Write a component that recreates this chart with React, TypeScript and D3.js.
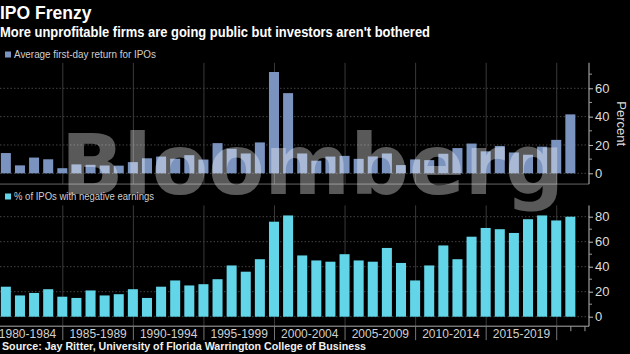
import React, { useRef, useEffect } from 'react';
import * as d3 from 'd3';

// Ritter IPO statistics
const years = [
  1980, 1981, 1982, 1983, 1984, 1985, 1986, 1987, 1988, 1989,
  1990, 1991, 1992, 1993, 1994, 1995, 1996, 1997, 1998, 1999,
  2000, 2001, 2002, 2003, 2004, 2005, 2006, 2007, 2008, 2009,
  2010, 2011, 2012, 2013, 2014, 2015, 2016, 2017, 2018, 2019,
  2020,
];

const firstDayReturn = [
  14.3, 5.6, 11.1, 9.9, 3.6, 6.3, 6.0, 5.5, 5.4, 7.9,
  10.6, 11.8, 10.3, 12.8, 9.7, 21.3, 17.3, 14.0, 21.8, 71.5,
  56.6, 14.0, 8.9, 11.8, 12.3, 10.2, 11.9, 14.0, 5.8, 9.8,
  9.3, 13.8, 17.8, 21.0, 15.5, 19.3, 14.7, 13.1, 18.8, 23.6,
  41.6,
];

const negativeEarnings = [
  24, 17, 19, 22, 16, 15, 21, 17, 18, 22,
  15, 24, 29, 25, 26, 30, 41, 36, 46, 76,
  81, 49, 45, 44, 50, 45, 44, 55, 43, 29,
  41, 57, 46, 64, 71, 70, 67, 78, 81, 77,
  80,
];

const periodLabels = [
  '1980-1984', '1985-1989', '1990-1994', '1995-1999',
  '2000-2004', '2005-2009', '2010-2014', '2015-2019',
];

const topTicks = [0, 20, 40, 60];
const topMinorTicks = [10, 30, 50, 70];
const bottomTicks = [0, 20, 40, 60, 80];
const bottomMinorTicks = [10, 30, 50, 70];

const WIDTH = 630;
const HEIGHT = 354;
const FONT = '"Liberation Sans", Arial, sans-serif';

const App = () => {
  const svgRef = useRef<SVGSVGElement>(null);

  useEffect(() => {
    const svg = d3.select(svgRef.current);
    svg.selectAll('*').remove();

    svg.append('rect')
      .attr('width', WIDTH)
      .attr('height', HEIGHT)
      .attr('fill', '#000');

    // shared year scale
    const x = d3.scaleBand<number>()
      .domain(years)
      .range([-1.2, 577.4])
      .paddingInner(0.29)
      .paddingOuter(0.145);
    const cx = (yr: number) => (x(yr) as number) + x.bandwidth() / 2;
    const axisX = 589;

    // gridlines sit on the last year of each 5-year period
    const gridX = periodLabels.map((_, i) => cx(years[4 + i * 5]) + 0.5);
    const period = gridX[1] - gridX[0];

    const yTop = d3.scaleLinear().domain([0, 60]).range([173.3, 88.3]);
    const yBot = d3.scaleLinear().domain([0, 80]).range([316.7, 216.7]);

    const topPanel = [yTop(78), yTop(-7.6)];
    const botPanel = [yBot(89), yBot(-7.6)];

    // vertical gridlines
    [topPanel, botPanel].forEach(([y0, y1]) => {
      svg.append('g')
        .selectAll('line')
        .data(gridX)
        .join('line')
        .attr('x1', d => d)
        .attr('x2', d => d)
        .attr('y1', y0)
        .attr('y2', y1)
        .attr('stroke', '#3a3a3a')
        .attr('stroke-width', 1);
    });

    // horizontal gridlines
    svg.append('g')
      .selectAll('line')
      .data(topTicks)
      .join('line')
      .attr('x1', 0)
      .attr('x2', axisX)
      .attr('y1', d => yTop(d))
      .attr('y2', d => yTop(d))
      .attr('stroke', '#444')
      .attr('stroke-dasharray', '1.5,2');

    svg.append('g')
      .selectAll('line')
      .data(bottomTicks)
      .join('line')
      .attr('x1', 0)
      .attr('x2', axisX)
      .attr('y1', d => yBot(d))
      .attr('y2', d => yBot(d))
      .attr('stroke', '#444')
      .attr('stroke-dasharray', '1.5,2');

    // bars
    svg.append('g')
      .selectAll('rect')
      .data(years)
      .join('rect')
      .attr('x', d => x(d) as number)
      .attr('width', x.bandwidth())
      .attr('y', (d, i) => yTop(firstDayReturn[i]))
      .attr('height', (d, i) => yTop(0) - yTop(firstDayReturn[i]))
      .attr('fill', '#7a93bf');

    svg.append('g')
      .selectAll('rect')
      .data(years)
      .join('rect')
      .attr('x', d => x(d) as number)
      .attr('width', x.bandwidth())
      .attr('y', (d, i) => yBot(negativeEarnings[i]))
      .attr('height', (d, i) => yBot(0) - yBot(negativeEarnings[i]))
      .attr('fill', '#62d5e8');

    // panel base lines
    svg.append('line')
      .attr('x1', 0).attr('x2', axisX)
      .attr('y1', topPanel[1]).attr('y2', topPanel[1])
      .attr('stroke', '#666');

    svg.append('line')
      .attr('x1', 0).attr('x2', axisX)
      .attr('y1', botPanel[1]).attr('y2', botPanel[1])
      .attr('stroke', '#aaa');

    // separators under the bottom axis
    svg.append('g')
      .selectAll('line')
      .data(gridX)
      .join('line')
      .attr('x1', d => d)
      .attr('x2', d => d)
      .attr('y1', botPanel[1])
      .attr('y2', botPanel[1] + 14)
      .attr('stroke', '#777');

    const lastGrid = gridX[gridX.length - 1];
    svg.append('g')
      .selectAll('line')
      .data([1, 2])
      .join('line')
      .attr('x1', d => lastGrid + d * x.step())
      .attr('x2', d => lastGrid + d * x.step())
      .attr('y1', botPanel[1])
      .attr('y2', botPanel[1] + 5)
      .attr('stroke', '#999');

    // period labels
    svg.append('g')
      .selectAll('text')
      .data(periodLabels)
      .join('text')
      .attr('x', (d, i) => gridX[i] - period / 2)
      .attr('y', 338)
      .attr('text-anchor', 'middle')
      .attr('fill', '#d0d0d0')
      .style('font-family', FONT)
      .style('font-size', '12px')
      .text(d => d);

    // right-hand value axes
    const drawAxis = (scale: d3.ScaleLinear<number, number>, ticks: number[], minor: number[], extent: number[]) => {
      const g = svg.append('g');
      g.append('line')
        .attr('x1', axisX).attr('x2', axisX)
        .attr('y1', extent[0]).attr('y2', extent[1])
        .attr('stroke', '#bbb');
      const axis = g.append('g')
        .attr('transform', `translate(${axisX},0)`)
        .call(d3.axisRight(scale).tickValues(ticks).tickSize(4).tickPadding(2));
      axis.select('.domain').remove();
      axis.selectAll('line').attr('stroke', '#bbb');
      axis.selectAll('text')
        .attr('fill', '#dcdcdc')
        .style('font-family', FONT)
        .style('font-size', '13px');
      g.selectAll('.minor')
        .data(minor)
        .join('line')
        .attr('class', 'minor')
        .attr('x1', axisX).attr('x2', axisX + 3)
        .attr('y1', d => scale(d)).attr('y2', d => scale(d))
        .attr('stroke', '#999');
    };

    drawAxis(yTop, topTicks, topMinorTicks, topPanel);
    drawAxis(yBot, bottomTicks, bottomMinorTicks, botPanel);

    svg.append('text')
      .attr('transform', `translate(617, ${yTop(35)}) rotate(90)`)
      .attr('text-anchor', 'middle')
      .attr('fill', '#dcdcdc')
      .style('font-family', FONT)
      .style('font-size', '13px')
      .text('Percent');

    // legends
    const legend = (y: number, color: string, label: string, len: number) => {
      svg.append('rect')
        .attr('x', 5).attr('y', y - 6.5)
        .attr('width', 6).attr('height', 6)
        .attr('fill', color);
      svg.append('text')
        .attr('x', 14).attr('y', y)
        .attr('fill', '#cfcfcf')
        .attr('textLength', len)
        .attr('lengthAdjust', 'spacingAndGlyphs')
        .style('font-family', FONT)
        .style('font-size', '11.5px')
        .text(label);
    };
    legend(58, '#7a93bf', 'Average first-day return for IPOs', 142);
    legend(200, '#62d5e8', '% of IPOs with negative earnings', 140);

    // watermark
    svg.append('text')
      .attr('x', 61)
      .attr('y', 194)
      .attr('fill', '#fff')
      .attr('fill-opacity', 0.35)
      .attr('textLength', 503)
      .attr('lengthAdjust', 'spacingAndGlyphs')
      .style('font-family', '"DejaVu Sans", sans-serif')
      .style('font-weight', 'bold')
      .style('font-size', '84px')
      .text('Bloomberg');

    // titles
    svg.append('text')
      .attr('x', 0).attr('y', 19)
      .attr('fill', '#fff')
      .style('font-family', FONT)
      .style('font-weight', 'bold')
      .style('font-size', '17.5px')
      .text('IPO Frenzy');

    svg.append('text')
      .attr('x', 0).attr('y', 37)
      .attr('fill', '#fff')
      .attr('textLength', 430)
      .attr('lengthAdjust', 'spacingAndGlyphs')
      .style('font-family', FONT)
      .style('font-weight', 'bold')
      .style('font-size', '15px')
      .text("More unprofitable firms are going public but investors aren't bothered");

    svg.append('text')
      .attr('x', 2).attr('y', 350)
      .attr('fill', '#f0f0f0')
      .attr('textLength', 364)
      .attr('lengthAdjust', 'spacingAndGlyphs')
      .style('font-family', FONT)
      .style('font-weight', 'bold')
      .style('font-size', '10.5px')
      .text('Source: Jay Ritter, University of Florida Warrington College of Business');
  }, []);

  return (
    <svg
      ref={svgRef}
      width={WIDTH}
      height={HEIGHT}
      style={{ position: 'absolute', left: 0, top: 0, display: 'block' }}
    />
  );
};

export default App;
